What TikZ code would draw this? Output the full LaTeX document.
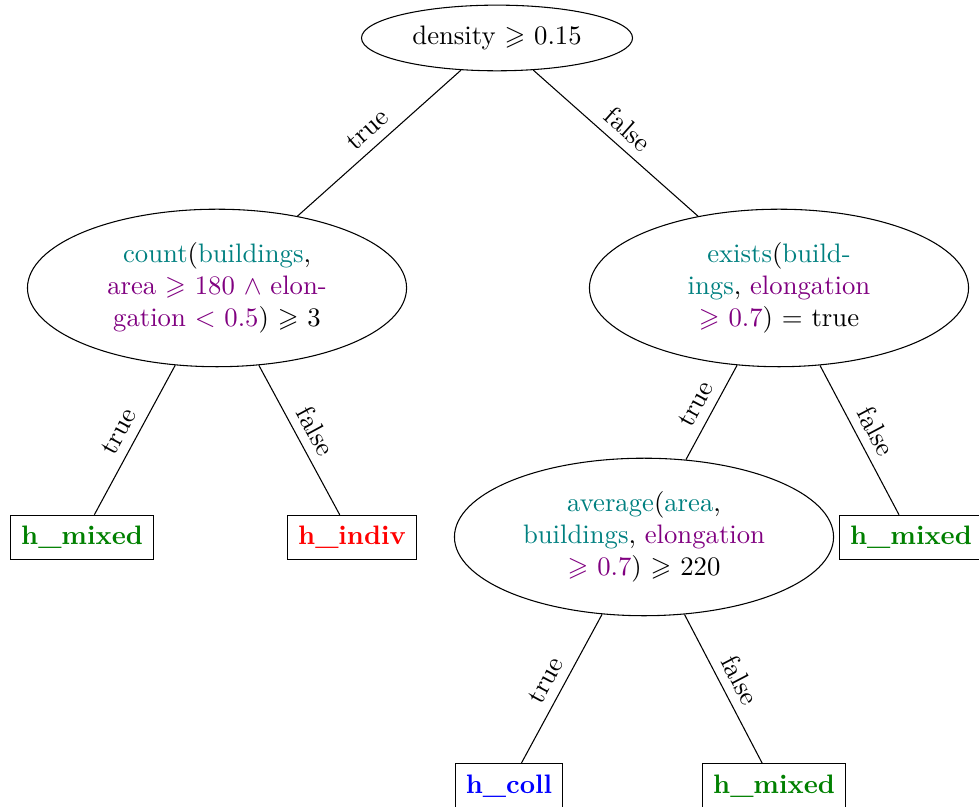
\documentclass[tikz,border=0pt]{standalone}
\usepackage{amsmath,amssymb,amsfonts}
\usepackage{xcolor}
\usepackage{tikz}
\usetikzlibrary{shapes.geometric}
\colorlet{hmixed}{green!50!black}

\begin{document}
\begin{tikzpicture}[auto,
    test/.style={draw, ellipse, align=center, inner sep=4.2pt},
    bigtest/.style={test, inner sep=3.33pt, minimum width=142pt, minimum height=59pt},
    leaf/.style={draw, rectangle, font=\bfseries, inner xsep=3.9pt, inner ysep=4.1pt},
    lbl/.style={sloped, above}]
    \useasboundingbox (0,0) rectangle (12.888,-10.611);
    \node [test] (density) at (6.543,-0.5) {density $\geqslant$ 0.15};
    \node [bigtest] (count) at (2.857,-3.791) {\textcolor{teal}{count}(\textcolor{teal}{buildings},\\ \textcolor{violet}{area $\geqslant$ 180 $\wedge$ elon-}\\ \textcolor{violet}{gation $<$ 0.5}) $\geqslant$ 3};
    \node [bigtest] (exists) at (10.255,-3.791) {\textcolor{teal}{exists}(\textcolor{teal}{build-}\\ \textcolor{teal}{ings}, \textcolor{violet}{elongation}\\ \textcolor{violet}{$\geqslant$ 0.7}) $=$ true};
    \node [bigtest] (average) at (8.478,-7.069) {\textcolor{teal}{average}(\textcolor{teal}{area},\\ \textcolor{teal}{buildings}, \textcolor{violet}{elongation}\\ \textcolor{violet}{$\geqslant$ 0.7}) $\geqslant$ 220};
    \node [leaf, text=hmixed] (mixedA) at (1.080,-7.076) {h\_mixed};
    \node [leaf, text=red] (indiv) at (4.634,-7.076) {h\_indiv};
    \node [leaf, text=hmixed] (mixedB) at (11.993,-7.076) {h\_mixed};
    \node [leaf, text=blue] (coll) at (6.701,-10.347) {h\_coll};
    \node [leaf, text=hmixed] (mixedC) at (10.190,-10.347) {h\_mixed};

    \draw (density) -- node[lbl] {true} (count);
    \draw (density) -- node[lbl] {false} (exists);
    \draw (count) -- node[lbl] {true} (mixedA);
    \draw (count) -- node[lbl] {false} (indiv);
    \draw (exists) -- node[lbl] {true} (average);
    \draw (exists) -- node[lbl] {false} (mixedB);
    \draw (average) -- node[lbl] {true} (coll);
    \draw (average) -- node[lbl] {false} (mixedC);
\end{tikzpicture}
\end{document}
